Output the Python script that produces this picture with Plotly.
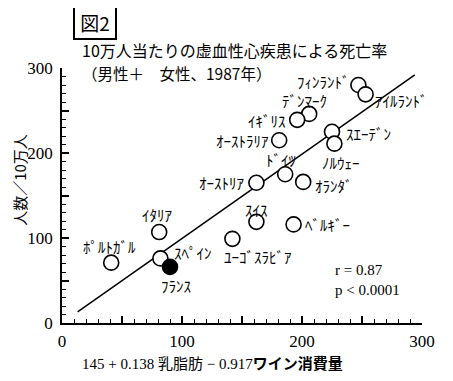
import plotly.graph_objects as go

countries = ["ﾌｨﾝﾗﾝﾄﾞ", "ｱｲﾙﾗﾝﾄﾞ", "ﾃﾞﾝﾏｰｸ", "ｲｷﾞﾘｽ", "ｵｰｽﾄﾗﾘｱ", "ｽｴｰﾃﾞﾝ", "ﾉﾙｳｪｰ",
             "ﾄﾞｲﾂ", "ｵﾗﾝﾀﾞ", "ｵｰｽﾄﾘｱ", "ｽｲｽ", "ﾍﾞﾙｷﾞｰ", "ﾕｰｺﾞｽﾗﾋﾞｱ", "ｲﾀﾘｱ",
             "ﾎﾟﾙﾄｶﾞﾙ", "ｽﾍﾟｲﾝ", "ﾌﾗﾝｽ"]
x_values = [247, 253, 206, 196, 181, 225, 227, 186, 201, 162, 162, 193, 142, 81, 41, 82, 90]
y_values = [280, 269, 246, 239, 215, 225, 211, 175, 166, 165, 119, 116, 99, 107, 71, 76, 66]
filled = ["ﾌﾗﾝｽ"]

line_x = [13, 294]
line_y = [13, 292]

tick_values = [0, 50, 100, 150, 200, 250, 300]
tick_labels = ["0", "", "100", "", "200", "", "300"]

title_text = "10万人当たりの虚血性心疾患による死亡率"
subtitle_text = "（男性＋　女性、1987年）"
x_title = "145 + 0.138 乳脂肪 − 0.917<b>ワイン消費量</b>"
y_title = "人数／10万人"
figure_label = "図2"
stats_r = "r = 0.87"
stats_p = "p < 0.0001"

# label placement (style): xanchor, xshift, yshift in pixels
label_style = {
    "ﾌｨﾝﾗﾝﾄﾞ": ("right", -6, 4),
    "ｱｲﾙﾗﾝﾄﾞ": ("left", 7, -6),
    "ﾃﾞﾝﾏｰｸ": ("center", -5, 13),
    "ｲｷﾞﾘｽ": ("right", -9, -1),
    "ｵｰｽﾄﾗﾘｱ": ("right", -8, 0),
    "ｽｴｰﾃﾞﾝ": ("left", 12, -2),
    "ﾉﾙｳｪｰ": ("center", 7, -19),
    "ﾄﾞｲﾂ": ("center", -4, 15),
    "ｵﾗﾝﾀﾞ": ("left", 10, -4),
    "ｵｰｽﾄﾘｱ": ("right", -9, 0),
    "ｽｲｽ": ("center", 0, 12),
    "ﾍﾞﾙｷﾞｰ": ("left", 9, 0),
    "ﾕｰｺﾞｽﾗﾋﾞｱ": ("left", -10, -18),
    "ｲﾀﾘｱ": ("center", -2, 18),
    "ﾎﾟﾙﾄｶﾞﾙ": ("center", -2, 16),
    "ｽﾍﾟｲﾝ": ("left", 12, 6),
    "ﾌﾗﾝｽ": ("center", 6, -19),
}

fig = go.Figure()
fig.add_trace(go.Scatter(x=line_x, y=line_y, mode="lines",
                         line=dict(color="black", width=1.5), hoverinfo="skip"))
fig.add_trace(go.Scatter(
    x=x_values, y=y_values, mode="markers", text=countries,
    marker=dict(size=15, symbol="circle",
                color=["black" if c in filled else "white" for c in countries],
                line=dict(color="black", width=1.6))))

jp = "Noto Sans CJK JP"
serif = "Liberation Serif, Noto Sans CJK JP"
annotations = []
for c, xv, yv in zip(countries, x_values, y_values):
    xa, xs, ys = label_style[c]
    annotations.append(dict(x=xv, y=yv, xref="x", yref="y", text=c, showarrow=False,
                            xanchor=xa, align=xa, yanchor="middle", xshift=xs, yshift=ys,
                            font=dict(family=jp, size=15, color="black")))

annotations += [
    dict(x=0.05, y=1.071, xref="paper", yref="paper", text=title_text, showarrow=False,
         xanchor="left", align="left", yanchor="middle",
         font=dict(family=jp, size=16, color="black")),
    dict(x=0.05, y=0.98, xref="paper", yref="paper", text=subtitle_text, showarrow=False,
         xanchor="left", align="left", yanchor="middle",
         font=dict(family=jp, size=15.5, color="black")),
    dict(x=0.05, y=-0.157, xref="paper", yref="paper", text=x_title, showarrow=False,
         xanchor="left", align="left", yanchor="middle",
         font=dict(family=serif, size=15, color="black")),
    dict(x=-0.117, y=0.561, xref="paper", yref="paper", text=y_title, showarrow=False,
         textangle=-90, xanchor="center", yanchor="middle",
         font=dict(family=jp, size=15, color="black")),
    dict(x=0.0917, y=1.18, xref="paper", yref="paper", text=figure_label, showarrow=False,
         xanchor="center", yanchor="middle", width=40, height=31, borderpad=0,
         bordercolor="black", borderwidth=2,
         font=dict(family=jp, size=19, color="black")),
    dict(x=0.753, y=0.208, xref="paper", yref="paper", text=stats_r, showarrow=False,
         xanchor="left", align="left", yanchor="middle",
         font=dict(family="Liberation Serif", size=15, color="black")),
    dict(x=0.753, y=0.129, xref="paper", yref="paper", text=stats_p, showarrow=False,
         xanchor="left", align="left", yanchor="middle",
         font=dict(family="Liberation Serif", size=15, color="black")),
]

axis_common = dict(
    range=[0, 300], tickvals=tick_values, ticktext=tick_labels,
    ticks="inside", ticklen=7, tickwidth=1.5, tickcolor="black",
    showline=True, linecolor="black", linewidth=1.5, showgrid=False, zeroline=False,
    automargin=False,
    tickfont=dict(family="Liberation Serif", size=17, color="black"),
    minor=dict(ticks="inside", ticklen=4, tickwidth=1.2, tickcolor="black", dtick=10, showgrid=False),
)

fig.update_layout(
    width=453, height=381,
    margin=dict(l=54, r=39, t=60, b=66, autoexpand=False),
    paper_bgcolor="white", plot_bgcolor="white",
    showlegend=False,
    xaxis=dict(**axis_common, ticklabelstandoff=2),
    yaxis=dict(**axis_common, ticklabelstandoff=4),
    annotations=annotations,
)

fig.write_html("out.html")
